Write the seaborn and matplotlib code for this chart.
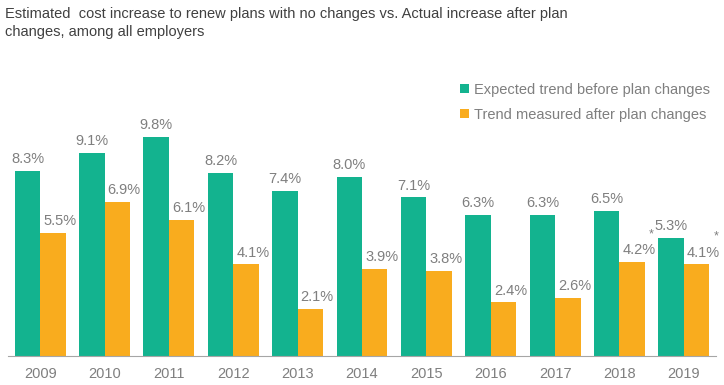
import pandas as pd
import matplotlib.pyplot as plt
import seaborn as sns

years = ['2009', '2010', '2011', '2012', '2013', '2014', '2015', '2016', '2017', '2018', '2019']
expected = [8.3, 9.1, 9.8, 8.2, 7.4, 8.0, 7.1, 6.3, 6.3, 6.5, 5.3]
measured = [5.5, 6.9, 6.1, 4.1, 2.1, 3.9, 3.8, 2.4, 2.6, 4.2, 4.1]
series_names = ['Expected trend before plan changes', 'Trend measured after plan changes']
starred_years = ['2018', '2019']  # measured values carrying an asterisk

colors = ['#13B38F', '#F9AC1E']
gray = '#7F7F7F'

df = pd.DataFrame({
    'year': years * 2,
    'value': expected + measured,
    'series': [series_names[0]] * len(years) + [series_names[1]] * len(years),
})

sns.set_style('white')
plt.rcParams['font.family'] = ['Liberation Sans', 'DejaVu Sans']

fig = plt.figure(figsize=(7.24, 3.85), dpi=100)
ax = fig.add_axes([8 / 724, 29 / 385, 708 / 724, 296 / 385])

sns.barplot(data=df, x='year', y='value', hue='series', palette=colors,
            width=0.79, saturation=1, linewidth=0, ax=ax, legend=True)

ax.set_xlim(-0.5, len(years) - 0.5)
ax.set_ylim(0, 13.25)
ax.set_xlabel('')
ax.set_ylabel('')
ax.set_yticks([])
for s in ['top', 'right', 'left']:
    ax.spines[s].set_visible(False)
ax.spines['bottom'].set_color('#A6A6A6')
ax.tick_params(axis='x', length=0, pad=8, labelsize=10.5, labelcolor=gray)

# value labels (orange ones sit slightly right of their bar, as in the source)
for i, (container, vals) in enumerate(zip(ax.containers, [expected, measured])):
    for bar, v, yr in zip(container, vals, years):
        x = bar.get_x() + bar.get_width() / 2
        dx = 0 if i == 0 else 5
        ax.annotate(f'{v:.1f}%', (x, v), xytext=(dx, 3.5), textcoords='offset points',
                    ha='center', va='bottom', fontsize=10.5, color=gray, zorder=5)
        if i == 1 and yr in starred_years:
            ax.annotate('*', (x, v), xytext=(14, 15.5), textcoords='offset points',
                        ha='center', va='bottom', fontsize=9, color=gray, zorder=5)

leg = ax.legend(loc='upper left', bbox_to_anchor=(460 / 724, 1 - 83 / 385),
                bbox_transform=fig.transFigure, frameon=False, fontsize=10.5,
                handlelength=0.6, handleheight=0.6, handletextpad=0.35,
                labelspacing=0.72, borderaxespad=0, borderpad=0)
for t in leg.get_texts():
    t.set_color(gray)

fig.text(5 / 724, 1 - 7 / 385,
         'Estimated  cost increase to renew plans with no changes vs. Actual increase after plan\n'
         'changes, among all employers',
         ha='left', va='top', fontsize=10.5, color='#404040', linespacing=1.35)

fig.savefig('out.png', dpi=100)
